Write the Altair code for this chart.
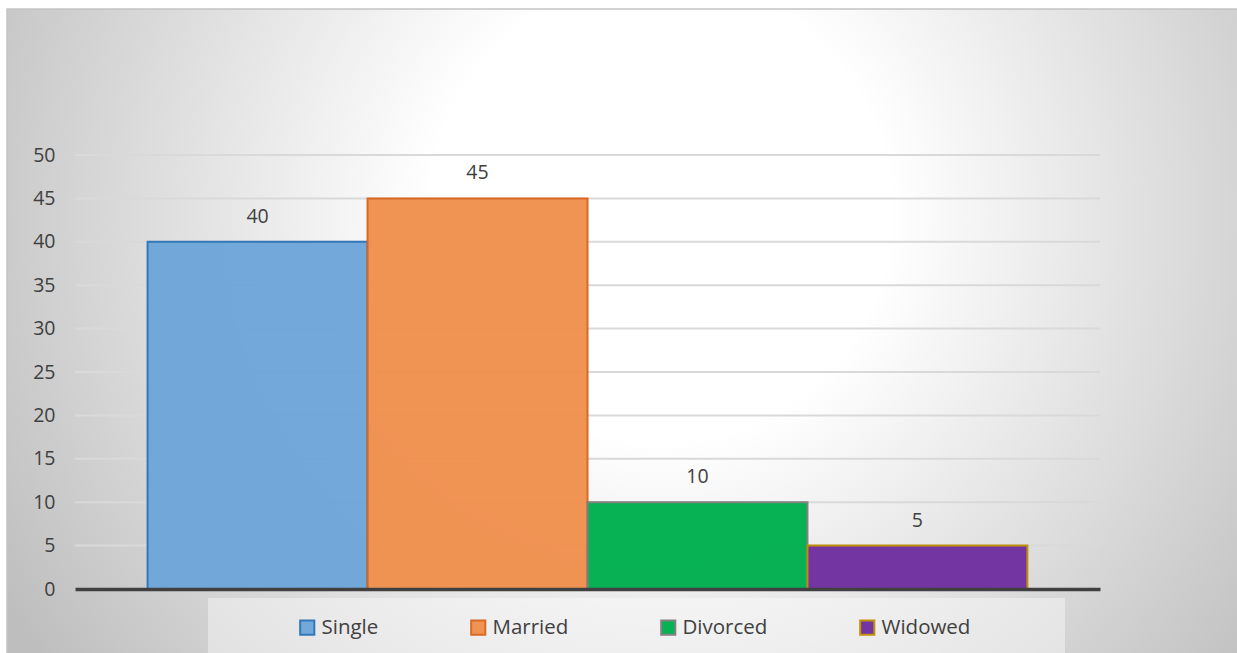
import altair as alt
import pandas as pd

categories = ["Single", "Married", "Divorced", "Widowed"]
values = [40, 45, 10, 5]
fill_colors = ["#6FA6DA", "#F0914F", "#00B050", "#7030A0"]
stroke_colors = ["#2E75B6", "#D9651E", "#7F7F7F", "#BF9000"]
y_ticks = [0, 5, 10, 15, 20, 25, 30, 35, 40, 45, 50]
grid_values = [5, 10, 15, 20, 25, 30, 35, 40, 45, 50]

df = pd.DataFrame({"status": categories, "count": values})
grid_df = pd.DataFrame({"g": grid_values})
one = pd.DataFrame({"a": [0]})

W, H = 1025, 434
PL, PT = 75, 155
FONT = "Open Sans"
TXT = "#404040"

yscale = alt.Scale(domain=[0, 50], nice=False, zero=True)
xscale = alt.Scale(domain=categories, paddingInner=0, paddingOuter=0.33)
yaxis = alt.Axis(title=None, values=y_ticks, grid=False, domain=False,
                 ticks=False, labelPadding=20, labelFont=FONT,
                 labelFontSize=19.5, labelColor=TXT, zindex=1)

bg = alt.Chart(one).mark_rect(
    fill={
        "gradient": "radial",
        "x1": 0.53, "y1": 0.4, "r1": 0,
        "x2": 0.53, "y2": 0.4, "r2": 0.62,
        "stops": [
            {"offset": 0, "color": "#ffffff"},
            {"offset": 0.3, "color": "#ffffff"},
            {"offset": 1, "color": "#bebebe"},
        ],
    },
    stroke="#c4c4c4",
    strokeWidth=1.5,
).encode(
    x=alt.value(7 - PL), x2=alt.value(1240 - PL),
    y=alt.value(9 - PT), y2=alt.value(660 - PT),
)

legend_bg = alt.Chart(one).mark_rect(fill="#ffffff", opacity=0.4).encode(
    x=alt.value(208 - PL), x2=alt.value(1065 - PL),
    y=alt.value(598 - PT), y2=alt.value(660 - PT),
)

grid = alt.Chart(grid_df).mark_rule(color="#d9d9d9", strokeWidth=2).encode(
    y=alt.Y("g:Q", scale=yscale, axis=yaxis)
)

leg = alt.Legend(title=None, orient="none", legendX=222, legendY=462,
                 direction="horizontal", columns=4, columnPadding=88,
                 symbolType="square", symbolSize=200, symbolStrokeWidth=2,
                 labelFont=FONT, labelFontSize=20.5, labelColor=TXT,
                 labelOffset=4, padding=0, zindex=1)

bars = alt.Chart(df).mark_bar(strokeWidth=2, opacity=0.97).encode(
    x=alt.X("status:N", scale=xscale, sort=categories,
            axis=alt.Axis(title=None, labels=False, ticks=False, domain=True,
                          domainColor=TXT, domainWidth=3.5, zindex=1)),
    y=alt.Y("count:Q", scale=yscale, axis=yaxis),
    fill=alt.Fill("status:N", sort=categories,
                  scale=alt.Scale(domain=categories, range=fill_colors),
                  legend=leg),
    stroke=alt.Stroke("status:N", sort=categories,
                      scale=alt.Scale(domain=categories, range=stroke_colors),
                      legend=leg),
)

labels = alt.Chart(df).mark_text(
    baseline="bottom", dy=-15, font=FONT, fontSize=19.5, color=TXT
).encode(
    x=alt.X("status:N", scale=xscale, sort=categories),
    y=alt.Y("count:Q", scale=yscale, axis=yaxis),
    text="count:Q",
)

chart = alt.layer(bg, legend_bg, grid, bars, labels).properties(
    width=W, height=H,
    padding={"left": PL, "top": PT, "right": 1237 - PL - W, "bottom": 653 - PT - H},
    autosize=alt.AutoSizeParams(type="none"),
    background="white",
).configure_view(stroke=None)

chart.save("out.html", embed_options={"renderer": "svg", "actions": False})
